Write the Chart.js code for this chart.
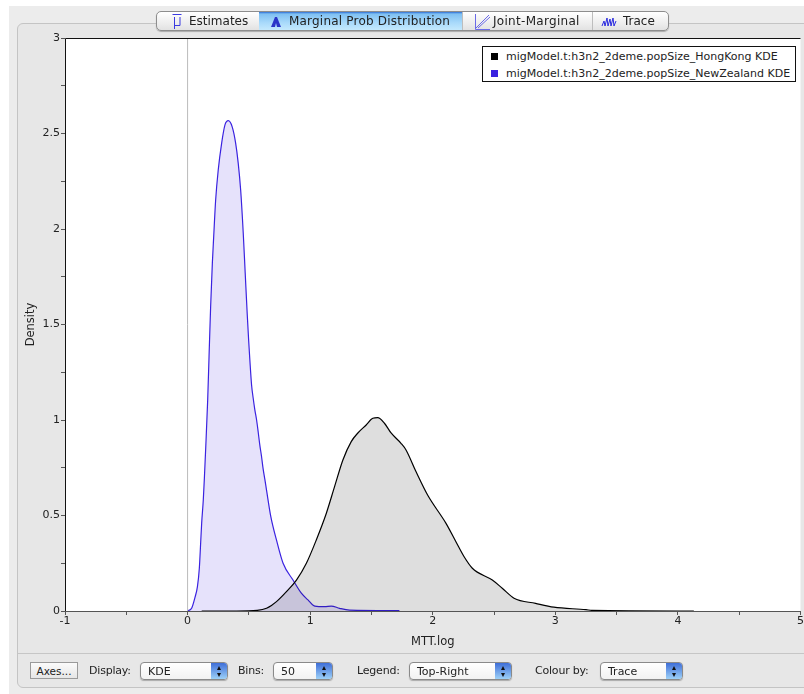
<!DOCTYPE html>
<html>
<head>
<meta charset="utf-8">
<title>MTT.log</title>
<script src="https://cdn.jsdelivr.net/npm/chart.js@4"></script>
<style>
html, body { margin: 0; padding: 0; background: #fff; }
body { width: 804px; height: 694px; overflow: hidden; position: relative; font-family: "DejaVu Sans", sans-serif; font-size: 11px; color: #222; }
#outer { position: absolute; left: 9px; top: 6px; width: 795px; height: 688px; background: #ececec; }
#panel { position: absolute; left: 17px; top: 23px; width: 800px; height: 665px; background: #e7e7e7; border: 1px solid #c4c4c4; border-radius: 6px; box-sizing: border-box; }
#sep { position: absolute; left: 18px; top: 653px; width: 786px; height: 1px; background: #c6c6c6; }
#chartBox { position: absolute; left: 0; top: 0; width: 804px; height: 694px; }
#tabs { position: absolute; left: 156px; top: 11px; width: 513px; height: 20px; box-sizing: border-box; border: 1px solid #8d8d8d; border-radius: 5px; background: linear-gradient(#fff, #eee 60%, #e2e2e2); overflow: hidden; box-shadow: 0 1px 1px #aaa; }
.tab { position: absolute; top: 0; height: 18px; line-height: 18px; font-size: 12px; white-space: nowrap; }
.tab svg { position: absolute; top: 1px; left: 0; }
.tab.on { background: linear-gradient(#2f6fd6 0, #7fc0f2 2px, #a9dafb 60%, #c4e9fd); }
.tabSep { position: absolute; top: 0; width: 1px; height: 18px; background: #bdbdbd; }
#legend { position: absolute; left: 482px; top: 46px; width: 314px; height: 36px; box-sizing: border-box; border: 1px solid #111; background: #fff; font-size: 11px; }
.legendRow { position: absolute; left: 8px; height: 16px; line-height: 16px; white-space: nowrap; }
.legendRow i { display: inline-block; width: 7px; height: 7px; margin-right: 8px; vertical-align: 0; }
.lbl { position: absolute; top: 663px; height: 16px; line-height: 16px; font-size: 11px; letter-spacing: -0.2px; }
.sel { position: absolute; top: 662px; height: 18px; line-height: 17px; box-sizing: border-box; border: 1px solid #8a8a8a; border-radius: 4px; background: linear-gradient(#fff, #f2f2f2); padding-left: 7px; font-size: 11px; box-shadow: 0 1px 1px #aaa; overflow: hidden; }
.sel b { position: absolute; right: 0; top: 0; width: 16px; height: 18px; background: linear-gradient(#3f6fd8, #a8dcfb); }
.sel b:before { content: ""; position: absolute; left: 6px; top: 3px; border: 2.5px solid transparent; border-top: 0; border-bottom: 4px solid #111; }
.sel b:after { content: ""; position: absolute; left: 6px; top: 10px; border: 2.5px solid transparent; border-bottom: 0; border-top: 4px solid #111; }
#axesBtn { position: absolute; left: 30px; top: 662px; width: 48px; height: 17px; line-height: 16px; box-sizing: border-box; border: 1px solid #9a9a9a; background: linear-gradient(#fbfbfb, #e6e6e6); text-align: center; font-size: 10.5px; }
</style>
</head>
<body>
<div id="outer"></div>
<div id="panel"></div>
<div id="sep"></div>
<div id="chartBox"><canvas id="kdeChart" width="804" height="694"></canvas></div>

<div id="tabs">
  <div class="tab" style="left:0;width:102px">
    <svg width="20" height="18" style="left:13px"><path d="M2.5 1.5h9M4.5 4v12M10 4v8.5M4.5 12.5h5.5" stroke="#3a3ae0" fill="none"/></svg>
    <span style="position:absolute;left:32px">Estimates</span>
  </div>
  <div class="tab on" style="left:102px;width:203px">
    <svg width="20" height="18" style="left:9px"><path d="M3 14l4-10h2l4 10h-4l-1-4-1 4z" fill="#2a35c8"/></svg>
    <span style="position:absolute;left:30px;letter-spacing:0.2px">Marginal Prob Distribution</span>
  </div>
  <div class="tabSep" style="left:305px"></div>
  <div class="tab" style="left:306px;width:129px">
    <svg width="20" height="18" style="left:10px"><path d="M2.5 1v15.5H17M3 15L16 2M5 15L17 4" stroke="#6a6ae8" fill="none"/></svg>
    <span style="position:absolute;left:30px;letter-spacing:0.3px">Joint-Marginal</span>
  </div>
  <div class="tabSep" style="left:435px"></div>
  <div class="tab" style="left:436px;width:76px">
    <svg width="20" height="18" style="left:8px"><path d="M1 13l2-5 1 5 2-8 1 8 2-7 1 7 2-8 1 8 2-5" stroke="#2a2ae0" fill="none"/></svg>
    <span style="position:absolute;left:30px">Trace</span>
  </div>
</div>

<div id="legend"></div>

<div id="axesBtn">Axes...</div>
<div class="lbl" style="left:89px">Display:</div>
<div class="sel" style="left:140px;width:88px">KDE<b></b></div>
<div class="lbl" style="left:238px">Bins:</div>
<div class="sel" style="left:273px;width:60px">50<b></b></div>
<div class="lbl" style="left:357px">Legend:</div>
<div class="sel" style="left:409px;width:103px">Top-Right<b></b></div>
<div class="lbl" style="left:535px">Colour by:</div>
<div class="sel" style="left:600px;width:83px">Trace<b></b></div>

<script>
// Courbes
const hongKongX = [0.115, 0.4, 0.567, 0.644, 0.725, 0.806, 0.888, 0.969, 1.05, 1.132, 1.199, 1.267, 1.335, 1.389, 1.457, 1.511, 1.551, 1.606, 1.66, 1.741, 1.782, 1.863, 1.958, 2.107, 2.189, 2.256, 2.323, 2.486, 2.567, 2.663, 2.839, 2.988, 3.25, 3.3, 4.13];
const hongKongDensity = [0, 0, 0.003, 0.014, 0.049, 0.101, 0.162, 0.25, 0.372, 0.512, 0.651, 0.791, 0.887, 0.932, 0.974, 1.009, 1.012, 0.983, 0.932, 0.878, 0.843, 0.73, 0.607, 0.46, 0.363, 0.284, 0.224, 0.162, 0.119, 0.067, 0.04, 0.02, 0.007, 0.003, 0];
const newZealandX = [0, 0.034, 0.061, 0.08, 0.096, 0.107, 0.115, 0.128, 0.137, 0.148, 0.164, 0.175, 0.188, 0.202, 0.213, 0.229, 0.25, 0.278, 0.305, 0.332, 0.364, 0.392, 0.413, 0.433, 0.454, 0.47, 0.486, 0.498, 0.508, 0.522, 0.535, 0.549, 0.563, 0.576, 0.589, 0.603, 0.616, 0.63, 0.644, 0.679, 0.725, 0.779, 0.86, 0.928, 0.982, 1.037, 1.118, 1.172, 1.24, 1.321, 1.728];
const newZealandDensity = [0, 0.016, 0.073, 0.126, 0.225, 0.361, 0.461, 0.58, 0.695, 0.855, 1.105, 1.331, 1.593, 1.82, 1.96, 2.152, 2.309, 2.45, 2.545, 2.567, 2.535, 2.45, 2.345, 2.204, 1.979, 1.77, 1.56, 1.419, 1.314, 1.183, 1.115, 1.052, 1.0, 0.937, 0.87, 0.81, 0.745, 0.69, 0.633, 0.494, 0.372, 0.25, 0.162, 0.093, 0.058, 0.026, 0.023, 0.026, 0.014, 0.005, 0.002];
const zeroLineX = [0, 0];
const zeroLineY = [0, 3];
const seriesNames = ['migModel.t:h3n2_2deme.popSize_HongKong KDE', 'migModel.t:h3n2_2deme.popSize_NewZealand KDE'];
const seriesColors = ['#000000', '#3a22e0'];
const xTickLabels = ['-1', '0', '1', '2', '3', '4', '5'];
const yTickLabels = ['0', '0.5', '1', '1.5', '2', '2.5', '3'];

function toPoints(xs, ys) {
    return xs.map(function (x, i) { return { x: x, y: ys[i] }; });
}

// Légende en haut à droite
const legendBox = document.getElementById('legend');
seriesNames.forEach(function (name, i) {
    const row = document.createElement('div');
    row.className = 'legendRow';
    row.style.top = (2 + i * 17) + 'px';
    row.innerHTML = '<i style="background:' + seriesColors[i] + '"></i>' + name;
    legendBox.appendChild(row);
});

// Fond blanc et cadre de la zone de tracé
const plotFrame = {
    id: 'plotFrame',
    beforeDraw: function (chart) {
        const a = chart.chartArea;
        chart.ctx.save();
        chart.ctx.fillStyle = '#fff';
        chart.ctx.fillRect(a.left, a.top, a.width, a.height);
        chart.ctx.restore();
    },
    afterDraw: function (chart) {
        const a = chart.chartArea;
        chart.ctx.save();
        chart.ctx.strokeStyle = '#111';
        chart.ctx.lineWidth = 1;
        chart.ctx.beginPath();
        chart.ctx.moveTo(a.left + 0.5, a.bottom);
        chart.ctx.lineTo(a.left + 0.5, a.top + 0.5);
        chart.ctx.lineTo(a.right, a.top + 0.5);
        chart.ctx.stroke();
        chart.ctx.strokeStyle = '#555';
        chart.ctx.beginPath();
        chart.ctx.moveTo(a.left, a.bottom + 0.5);
        chart.ctx.lineTo(a.right, a.bottom + 0.5);
        chart.ctx.stroke();
        chart.ctx.restore();
    }
};

new Chart(document.getElementById('kdeChart'), {
    type: 'scatter',
    data: {
        datasets: [
            {
                label: 'zero',
                data: toPoints(zeroLineX, zeroLineY),
                showLine: true,
                borderColor: '#bbbbbb',
                borderWidth: 1,
                pointRadius: 0,
                fill: false
            },
            {
                label: seriesNames[0],
                data: toPoints(hongKongX, hongKongDensity),
                showLine: true,
                borderColor: seriesColors[0],
                borderWidth: 1.2,
                backgroundColor: 'rgba(0,0,0,0.13)',
                cubicInterpolationMode: 'monotone',
                pointRadius: 0,
                fill: 'origin'
            },
            {
                label: seriesNames[1],
                data: toPoints(newZealandX, newZealandDensity),
                showLine: true,
                borderColor: seriesColors[1],
                borderWidth: 1.2,
                backgroundColor: 'rgba(58,34,224,0.13)',
                cubicInterpolationMode: 'monotone',
                pointRadius: 0,
                fill: 'origin'
            }
        ]
    },
    options: {
        responsive: false,
        animation: false,
        layout: { padding: { left: 24, right: 2, top: 38, bottom: 41 } },
        plugins: { legend: { display: false }, tooltip: { enabled: false } },
        scales: {
            x: {
                type: 'linear',
                min: -1,
                max: 5,
                afterFit: function (scale) { scale.height = 42; },
                grid: { drawOnChartArea: false, tickLength: 4, tickColor: '#555' },
                border: { display: false },
                title: { display: true, text: 'MTT.log', color: '#222', font: { family: 'DejaVu Sans', size: 11.5 }, padding: { top: 4 } },
                ticks: {
                    stepSize: 0.5,
                    autoSkip: false,
                    maxRotation: 0,
                    padding: 0,
                    color: '#222',
                    font: { family: 'DejaVu Sans', size: 11 },
                    callback: function (v) { return xTickLabels.includes(String(v)) ? String(v) : ''; }
                }
            },
            y: {
                type: 'linear',
                min: 0,
                max: 3,
                afterFit: function (scale) { scale.width = 41; },
                grid: { drawOnChartArea: false, tickLength: 4, tickColor: '#555' },
                border: { display: false },
                title: { display: true, text: 'Density', color: '#222', font: { family: 'DejaVu Sans', size: 11.5 }, padding: 0 },
                ticks: {
                    stepSize: 0.25,
                    autoSkip: false,
                    padding: 1,
                    color: '#222',
                    font: { family: 'DejaVu Sans', size: 11 },
                    callback: function (v) { return yTickLabels.includes(String(v)) ? String(v) : ''; }
                }
            }
        }
    },
    plugins: [plotFrame]
});
</script>
</body>
</html>
